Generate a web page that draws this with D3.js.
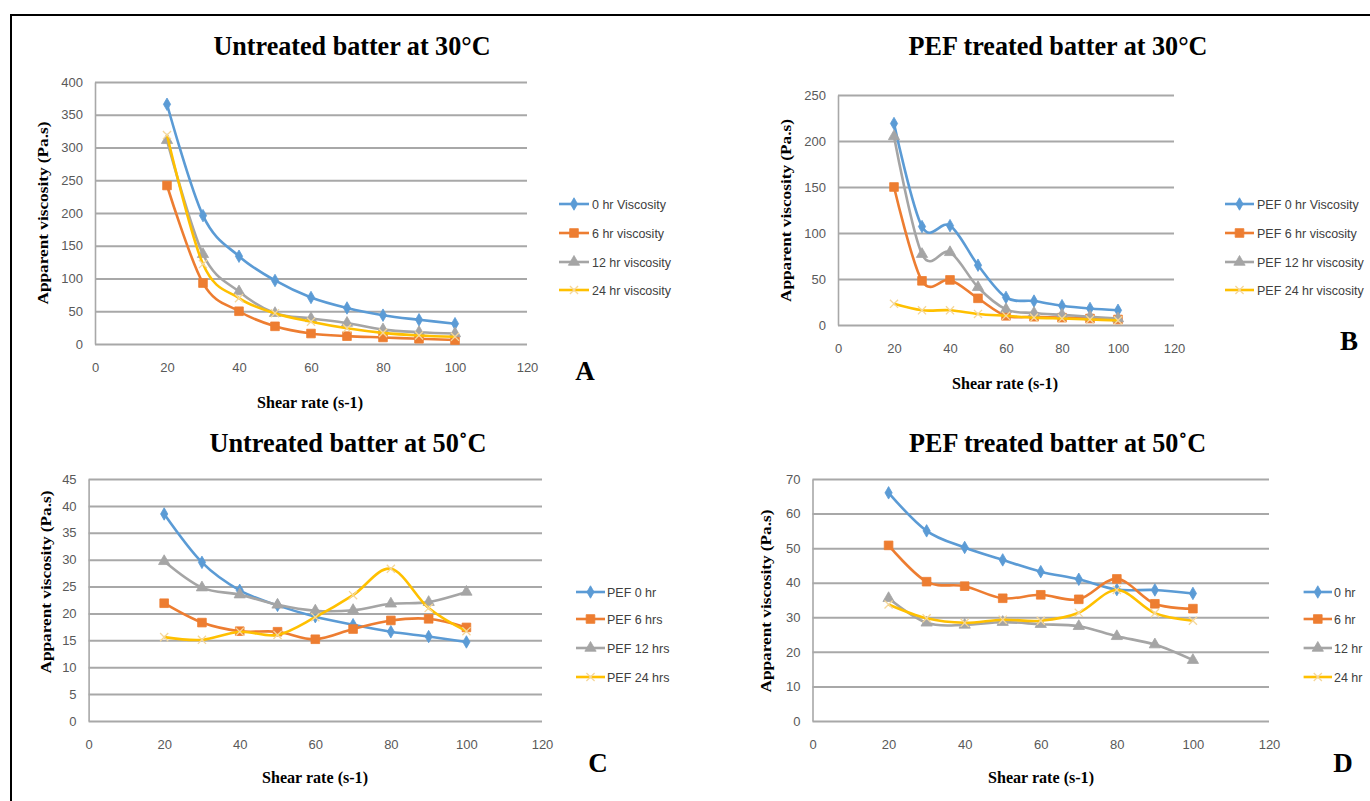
<!DOCTYPE html>
<html><head><meta charset="utf-8">
<script src="https://cdn.jsdelivr.net/npm/d3@7"></script>
<style>body{margin:0;background:#fff}svg{display:block}</style>
</head><body>
<svg id="chart" width="1370" height="801"></svg>
<script>
// ---------- DATA ----------
const shearRate = [20, 30, 40, 50, 60, 70, 80, 90, 100];
const xTickValues = [0, 20, 40, 60, 80, 100, 120];

// Panel A – Untreated batter at 30°C
const titleA = "Untreated batter at 30°C";
const legendA = ["0 hr Viscosity", "6 hr viscosity", "12 hr viscosity", "24 hr viscosity"];
const yTicksA = [0, 50, 100, 150, 200, 250, 300, 350, 400];
const a0hr  = [366, 196, 134, 97, 71, 55, 44, 37, 31];
const a6hr  = [242, 93, 50, 27, 16, 12, 10, 8, 6];
const a12hr = [311, 137, 80, 47, 39, 32, 22, 18, 16];
const a24hr = [319, 122, 70, 47, 34, 24, 17, 13, 11];

// Panel B – PEF treated batter at 30°C
const titleB = "PEF treated batter at 30°C";
const legendB = ["PEF 0 hr Viscosity", "PEF 6 hr viscosity", "PEF 12 hr viscosity", "PEF 24 hr viscosity"];
const yTicksB = [0, 50, 100, 150, 200, 250];
const b0hr  = [219, 107, 108, 65, 30, 26, 21, 18, 16];
const b6hr  = [150, 48, 49, 29, 10, 9, 8, 7, 6];
const b12hr = [205, 77, 79, 41, 17, 13, 11, 9, 7];
const b24hr = [23, 16, 16, 12, 10, 8, 7, 6, 5];

// Panel C – Untreated batter at 50°C
const titleC = "Untreated batter at 50\u02DAC";
const legendC = ["PEF 0 hr", "PEF 6 hrs", "PEF 12 hrs", "PEF 24 hrs"];
const yTicksC = [0, 5, 10, 15, 20, 25, 30, 35, 40, 45];
const c0hr  = [38.5, 29.5, 24.3, 21.5, 19.4, 17.9, 16.6, 15.7, 14.7];
const c6hr  = [21.9, 18.3, 16.7, 16.6, 15.2, 17.1, 18.7, 19.0, 17.4];
const c12hr = [29.7, 24.8, 23.5, 21.6, 20.5, 20.6, 21.8, 22.1, 24.0];
const c24hr = [15.6, 15.1, 16.6, 16.0, 19.3, 23.4, 28.3, 21.0, 16.7];

// Panel D – PEF treated batter at 50°C
const titleD = "PEF treated batter at 50\u02DAC";
const legendD = ["0 hr", "6 hr", "12 hr", "24 hr"];
const yTicksD = [0, 10, 20, 30, 40, 50, 60, 70];
const d0hr  = [66.0, 55.0, 50.2, 46.6, 43.2, 41.0, 38.0, 37.9, 36.9];
const d6hr  = [50.8, 40.3, 39.0, 35.5, 36.5, 35.2, 41.1, 33.9, 32.5];
const d12hr = [35.5, 28.4, 27.8, 28.6, 28.0, 27.4, 24.5, 22.1, 17.6];
const d24hr = [33.7, 29.7, 28.4, 29.3, 29.0, 31.3, 37.9, 31.2, 29.0];

const yAxisTitle = "Apparent viscosity (Pa.s)";
const xAxisTitle = "Shear rate (s-1)";

// ---------- STYLE ----------
const colors = ["#5B9BD5", "#ED7D31", "#A5A5A5", "#FFC000"];
const symbols = [d3.symbolDiamond, d3.symbolSquare, d3.symbolTriangle, d3.symbolX];
const symSizes = [45, 75, 55, 45];
const tickFont = "'Liberation Sans', Arial, sans-serif";
const serif = "'Liberation Serif', 'Times New Roman', serif";
const gridColor = "#A8A8A8";

const svg = d3.select("#chart");
svg.append("path").attr("d", "M11,801V15H1370")
  .attr("fill", "none").attr("stroke", "#000").attr("stroke-width", 2);

const panels = [
  { title: titleA, legend: legendA, yTicks: yTicksA, series: [a0hr, a6hr, a12hr, a24hr], letter: "A",
    left: 95, right: 527, top: 82, bottom: 344,
    titleX: 352, titleY: 55, titleW: 277,
    yTitleX: 42.5, yTitleY: 213, xTitleX: 310, xTitleY: 408,
    letterX: 585, letterY: 380,
    legX0: 559, legX1: 589, legTx: 592, legY: [204, 233, 262, 290] },
  { title: titleB, legend: legendB, yTicks: yTicksB, series: [b0hr, b6hr, b12hr, b24hr], letter: "B",
    left: 838, right: 1174, top: 95, bottom: 325,
    titleX: 1058, titleY: 55, titleW: 299,
    yTitleX: 785.5, yTitleY: 210.5, xTitleX: 1005, xTitleY: 389,
    letterX: 1349, letterY: 350,
    legX0: 1225, legX1: 1254, legTx: 1257, legY: [204, 233, 262, 290] },
  { title: titleC, legend: legendC, yTicks: yTicksC, series: [c0hr, c6hr, c12hr, c24hr], letter: "C",
    left: 88.6, right: 542, top: 479, bottom: 721,
    titleX: 348, titleY: 452, titleW: 277,
    yTitleX: 46, yTitleY: 582, xTitleX: 315, xTitleY: 783,
    letterX: 598, letterY: 772,
    legX0: 576, legX1: 605, legTx: 607, legY: [592, 619, 648, 677] },
  { title: titleD, legend: legendD, yTicks: yTicksD, series: [d0hr, d6hr, d12hr, d24hr], letter: "D",
    left: 812.5, right: 1269, top: 479, bottom: 721,
    titleX: 1057.5, titleY: 452, titleW: 297,
    yTitleX: 765.5, yTitleY: 601, xTitleX: 1041, xTitleY: 783,
    letterX: 1343, letterY: 772,
    legX0: 1303.6, legX1: 1332, legTx: 1334, legY: [592, 619, 648, 677] }
];

function marker(sel, i) {
  const path = d3.symbol().type(symbols[i]).size(symSizes[i])();
  if (i === 3) {
    sel.attr("d", path).attr("fill", "none").attr("stroke", "#F5D79A").attr("stroke-width", 1.3);
  } else {
    sel.attr("d", path).attr("fill", colors[i]).attr("stroke", colors[i]).attr("stroke-width", 0.8);
  }
}

panels.forEach(p => {
  const yMax = d3.max(p.yTicks);
  const x = d3.scaleLinear().domain([0, 120]).range([p.left, p.right]);
  const y = d3.scaleLinear().domain([0, yMax]).range([p.bottom, p.top]);
  const g = svg.append("g");

  const ya = g.append("g").attr("transform", `translate(${p.left},0)`)
    .call(d3.axisLeft(y).tickValues(p.yTicks).tickSize(-(p.right - p.left)).tickSizeOuter(0).tickPadding(12));
  ya.select(".domain").attr("stroke", gridColor).attr("stroke-width", 1.6);
  ya.selectAll(".tick line").attr("stroke", gridColor).attr("stroke-width", 2);
  ya.selectAll(".tick text").attr("font-family", tickFont).attr("font-size", 13).attr("fill", "#595959");

  const xa = g.append("g").attr("transform", `translate(0,${p.bottom})`)
    .call(d3.axisBottom(x).tickValues(xTickValues).tickSize(0).tickPadding(19));
  xa.select(".domain").remove();
  xa.selectAll(".tick text").attr("font-family", tickFont).attr("font-size", 13).attr("fill", "#595959");

  const line = d3.line().x((d, i) => x(shearRate[i])).y(d => y(d)).curve(d3.curveCatmullRom.alpha(0));
  p.series.forEach((s, i) => {
    g.append("path").datum(s).attr("d", line).attr("fill", "none")
      .attr("stroke", colors[i]).attr("stroke-width", 2.6);
    g.selectAll(null).data(s).enter().append("path")
      .attr("transform", (d, j) => `translate(${x(shearRate[j])},${y(d)})`)
      .each(function () { marker(d3.select(this), i); });
  });

  // titles
  g.append("text").attr("x", p.titleX).attr("y", p.titleY).attr("text-anchor", "middle")
    .attr("font-family", serif).attr("font-weight", "bold").attr("font-size", 28)
    .attr("textLength", p.titleW).attr("lengthAdjust", "spacingAndGlyphs").text(p.title);
  g.append("text").attr("transform", `translate(${p.yTitleX},${p.yTitleY}) rotate(-90)`)
    .attr("text-anchor", "middle").attr("dy", "0.35em")
    .attr("font-family", serif).attr("font-weight", "bold").attr("font-size", 15)
    .attr("textLength", 183).attr("lengthAdjust", "spacingAndGlyphs").text(yAxisTitle);
  g.append("text").attr("x", p.xTitleX).attr("y", p.xTitleY).attr("text-anchor", "middle")
    .attr("font-family", serif).attr("font-weight", "bold").attr("font-size", 16)
    .attr("textLength", 106).attr("lengthAdjust", "spacingAndGlyphs").text(xAxisTitle);
  g.append("text").attr("x", p.letterX).attr("y", p.letterY).attr("text-anchor", "middle")
    .attr("font-family", serif).attr("font-weight", "bold").attr("font-size", 27).text(p.letter);

  // legend
  p.legend.forEach((lab, i) => {
    const ly = p.legY[i];
    g.append("line").attr("x1", p.legX0).attr("x2", p.legX1).attr("y1", ly).attr("y2", ly)
      .attr("stroke", colors[i]).attr("stroke-width", 2.6);
    g.append("path").attr("transform", `translate(${(p.legX0 + p.legX1) / 2},${ly})`)
      .call(sel => marker(sel, i));
    g.append("text").attr("transform", `translate(${p.legTx},${ly}) scale(0.96,1)`)
      .attr("dy", "0.35em")
      .attr("font-family", tickFont).attr("font-size", 13).attr("fill", "#404040").text(lab);
  });
});
</script>
</body></html>
